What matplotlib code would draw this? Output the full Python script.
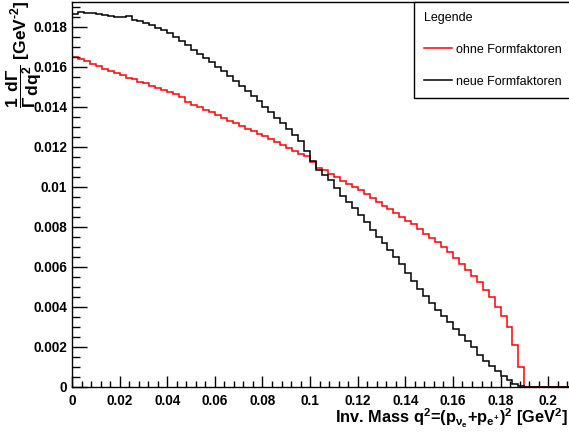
import numpy as np
import matplotlib
matplotlib.use("Agg")
import matplotlib.pyplot as plt
from matplotlib.ticker import MultipleLocator, FixedLocator, FixedFormatter

# ===================================== Data
bin_width = 0.0025
edges = np.arange(0, 84 + 1) * bin_width   # 0 ... 0.21

# "ohne Formfaktoren" (red)
ohne_ff = [
    0.01647, 0.01638, 0.01628, 0.01615, 0.01602, 0.01590, 0.01580, 0.01566,
    0.01558, 0.01545, 0.01537, 0.01525, 0.01517, 0.01503, 0.01495, 0.01482,
    0.01472, 0.01462, 0.01447, 0.01422, 0.01410, 0.01400, 0.01385, 0.01372,
    0.01360, 0.01342, 0.01327, 0.01318, 0.01302, 0.01290, 0.01280, 0.01265,
    0.01252, 0.01240, 0.01225, 0.01210, 0.01195, 0.01180, 0.01165, 0.01155,
    0.01125, 0.01095, 0.01082, 0.01065, 0.01047, 0.01030, 0.01015, 0.01000,
    0.00983, 0.00965, 0.00945, 0.00925, 0.00905, 0.00887, 0.00870, 0.00850,
    0.00830, 0.00812, 0.00790, 0.00765, 0.00745, 0.00722, 0.00697, 0.00672,
    0.00645, 0.00615, 0.00583, 0.00555, 0.00522, 0.00485, 0.00447, 0.00400,
    0.00355, 0.00300, 0.00210, 0.00100, 0, 0, 0, 0, 0, 0, 0, 0,
]

# "neue Formfaktoren" (black)
neue_ff = [
    0.01862, 0.01872, 0.01870, 0.01866, 0.01863, 0.01860, 0.01855, 0.01848,
    0.01850, 0.01852, 0.01832, 0.01826, 0.01817, 0.01806, 0.01795, 0.01782,
    0.01766, 0.01750, 0.01730, 0.01708, 0.01685, 0.01665, 0.01645, 0.01625,
    0.01600, 0.01578, 0.01553, 0.01530, 0.01505, 0.01480, 0.01455, 0.01430,
    0.01400, 0.01373, 0.01345, 0.01317, 0.01288, 0.01258, 0.01228, 0.01178,
    0.01130, 0.01085, 0.01060, 0.01035, 0.00995, 0.00955, 0.00925, 0.00892,
    0.00858, 0.00822, 0.00785, 0.00750, 0.00718, 0.00683, 0.00650, 0.00612,
    0.00570, 0.00530, 0.00490, 0.00455, 0.00420, 0.00385, 0.00352, 0.00322,
    0.00290, 0.00258, 0.00230, 0.00200, 0.00160, 0.00130, 0.00105, 0.00080,
    0.00055, 0.00035, 0.00015, 0.00005, 0, 0, 0, 0, 0, 0, 0, 0,
]

x_ticks = [0, 0.02, 0.04, 0.06, 0.08, 0.1, 0.12, 0.14, 0.16, 0.18, 0.2]
x_tick_labels = ["0", "0.02", "0.04", "0.06", "0.08", "0.1", "0.12", "0.14", "0.16", "0.18", "0.2"]
y_ticks = [0, 0.002, 0.004, 0.006, 0.008, 0.01, 0.012, 0.014, 0.016, 0.018]
y_tick_labels = ["0", "0.002", "0.004", "0.006", "0.008", "0.01", "0.012", "0.014", "0.016", "0.018"]

# ===================================== Style (ROOT look)
plt.rcParams['font.family'] = ['Liberation Sans', 'DejaVu Sans']
plt.rcParams['mathtext.fontset'] = 'custom'
plt.rcParams['mathtext.rm'] = 'Liberation Sans:bold'
plt.rcParams['mathtext.it'] = 'Liberation Sans:bold'
plt.rcParams['mathtext.bf'] = 'Liberation Sans:bold'

W, H = 569, 436
fig = plt.figure(figsize=(W / 100, H / 100), dpi=100)
ax = fig.add_axes([72 / W, 1 - 386.7 / H, 500 / W, 385 / H])

ax.stairs(ohne_ff, edges, baseline=None, color='#ff0000', lw=1.1, label='ohne Formfaktoren')
ax.stairs(neue_ff, edges, baseline=None, color='black', lw=1.1, label='neue Formfaktoren')

ax.set_xlim(0, 0.21)
ax.set_ylim(0, 0.01925)

ax.xaxis.set_major_locator(FixedLocator(x_ticks))
ax.xaxis.set_major_formatter(FixedFormatter(x_tick_labels))
ax.xaxis.set_minor_locator(MultipleLocator(0.004))
ax.yaxis.set_major_locator(FixedLocator(y_ticks))
ax.yaxis.set_major_formatter(FixedFormatter(y_tick_labels))
ax.yaxis.set_minor_locator(MultipleLocator(0.0005))

ax.tick_params(which='both', direction='in', top=False, right=False, width=1.0)
ax.tick_params(axis='x', which='major', length=8, pad=5.5)
ax.tick_params(axis='x', which='minor', length=4.3)
ax.tick_params(axis='y', which='major', length=10.8, pad=3.5)
ax.tick_params(axis='y', which='minor', length=5.8)
for lab in ax.get_xticklabels() + ax.get_yticklabels():
    lab.set_fontweight('bold')
    lab.set_fontsize(9.8)

for sp in ax.spines.values():
    sp.set_linewidth(1.0)

# axis titles
fig.text(568 / W, 1 - 423 / H,
         r'Inv. Mass q$^{2}$=(p$_{\nu_{e}}$+p$_{e^{+}}$)$^{2}$ [GeV$^{2}$]',
         ha='right', va='baseline', fontsize=11.8, fontweight='bold')
fig.text(24 / W, 1 - 0.5 / H,
         '$\\dfrac{1}{\\Gamma}\\dfrac{d\\Gamma}{dq^{2}}$ [GeV$^{\u20102}$]',
         rotation=90, ha='center', va='top', fontsize=12.5, fontweight='bold')

leg = fig.legend(loc='upper left', bbox_to_anchor=(414 / W, 1 - 1.7 / H),
                 borderaxespad=0, title='Legende', alignment='left',
                 fontsize=9, title_fontsize=9, frameon=True, fancybox=False,
                 edgecolor='black', framealpha=1, handlelength=2.2,
                 handletextpad=0.4, labelspacing=1.6, borderpad=0.8)
leg.get_frame().set_linewidth(1.0)

plt.savefig("out.png", dpi=100)
